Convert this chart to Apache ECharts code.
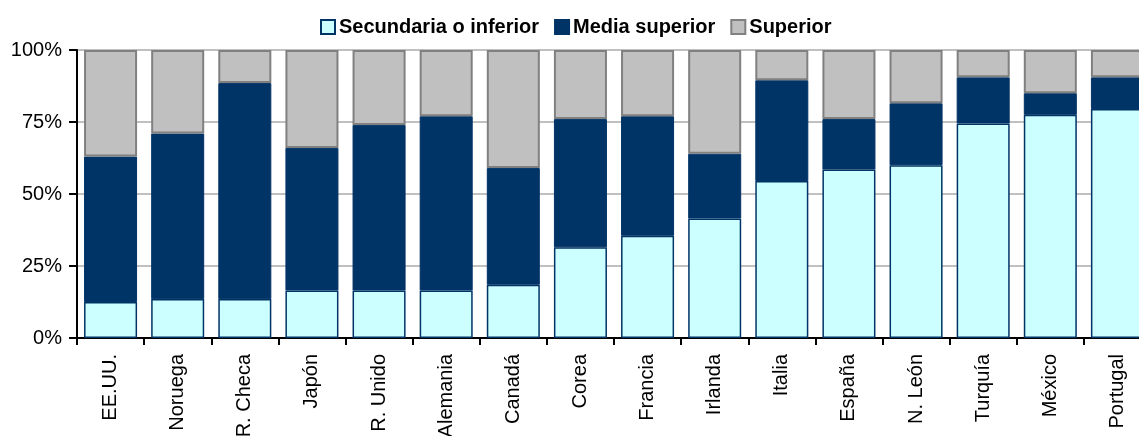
<!DOCTYPE html>
<html>
<head>
<meta charset="utf-8">
<script src="https://cdn.jsdelivr.net/npm/echarts@6/dist/echarts.min.js"></script>
<style>
  html, body { margin: 0; padding: 0; background: #fff; }
  #chart { width: 1139px; height: 436px; }
</style>
</head>
<body>
<div id="chart"></div>
<script>
// categorías (países)
var paises = ['EE.UU.', 'Noruega', 'R. Checa', 'Japón', 'R. Unido', 'Alemania', 'Canadá', 'Corea',
              'Francia', 'Irlanda', 'Italia', 'España', 'N. León', 'Turquía', 'México', 'Portugal'];
// porcentajes por nivel educativo
var secundaria = [12.5, 13.5, 13.5, 16.5, 16.5, 16.5, 18.5, 31.5, 35.5, 41.5, 54.5, 58.5, 60, 74.5, 77.5, 79.5];
var mediaSup   = [50.5, 57.5, 75, 49.5, 57.5, 60.5, 40.5, 44.5, 41.5, 22.5, 35, 17.5, 21.5, 16, 7.5, 11];
var superior   = [37, 29, 11.5, 34, 26, 23, 41, 24, 23, 36, 10.5, 24, 18.5, 9.5, 15, 9.5];
var nombres = ['Secundaria o inferior', 'Media superior', 'Superior'];

var myChart = echarts.init(document.getElementById('chart'));
var fuente = '"Liberation Sans", Arial, sans-serif';

var option = {
    animation: false,
    textStyle: { fontFamily: fuente },
    legend: {
        data: nombres,
        left: 315,
        top: 12,
        itemWidth: 14,
        itemHeight: 14,
        itemGap: 15,
        icon: 'rect',
        textStyle: { fontSize: 20, fontWeight: 'bold', color: '#000', fontFamily: fuente, padding: [0, 0, 0, -1] }
    },
    grid: { left: 77, top: 50, width: 1074, height: 288, containLabel: false, outerBoundsMode: 'none' },
    xAxis: {
        type: 'category',
        data: paises,
        axisLine: { lineStyle: { color: '#000', width: 2 } },
        axisTick: { show: true, length: 7, lineStyle: { color: '#000', width: 2 } },
        axisLabel: { rotate: 90, fontSize: 20, color: '#000', margin: 16, interval: 0 }
    },
    yAxis: {
        type: 'value',
        min: 0,
        max: 100,
        interval: 25,
        axisLine: { show: true, lineStyle: { color: '#000', width: 2 } },
        axisTick: { show: true, length: 8, lineStyle: { color: '#000', width: 2 } },
        axisLabel: { formatter: '{value}%', fontSize: 20, color: '#000', margin: 15 },
        splitLine: { lineStyle: { color: '#C0C0C0', width: 2 } }
    },
    series: [
        {
            name: nombres[0], type: 'bar', stack: 'total', data: secundaria,
            barCategoryGap: '21%',
            itemStyle: { color: '#CCFFFF', borderColor: '#003366', borderWidth: 1.5 }
        },
        {
            name: nombres[1], type: 'bar', stack: 'total', data: mediaSup,
            itemStyle: { color: '#003366', borderColor: '#003366', borderWidth: 1 }
        },
        {
            name: nombres[2], type: 'bar', stack: 'total', data: superior,
            itemStyle: { color: '#C0C0C0', borderColor: '#808080', borderWidth: 2 }
        }
    ]
};
myChart.setOption(option);
</script>
</body>
</html>
